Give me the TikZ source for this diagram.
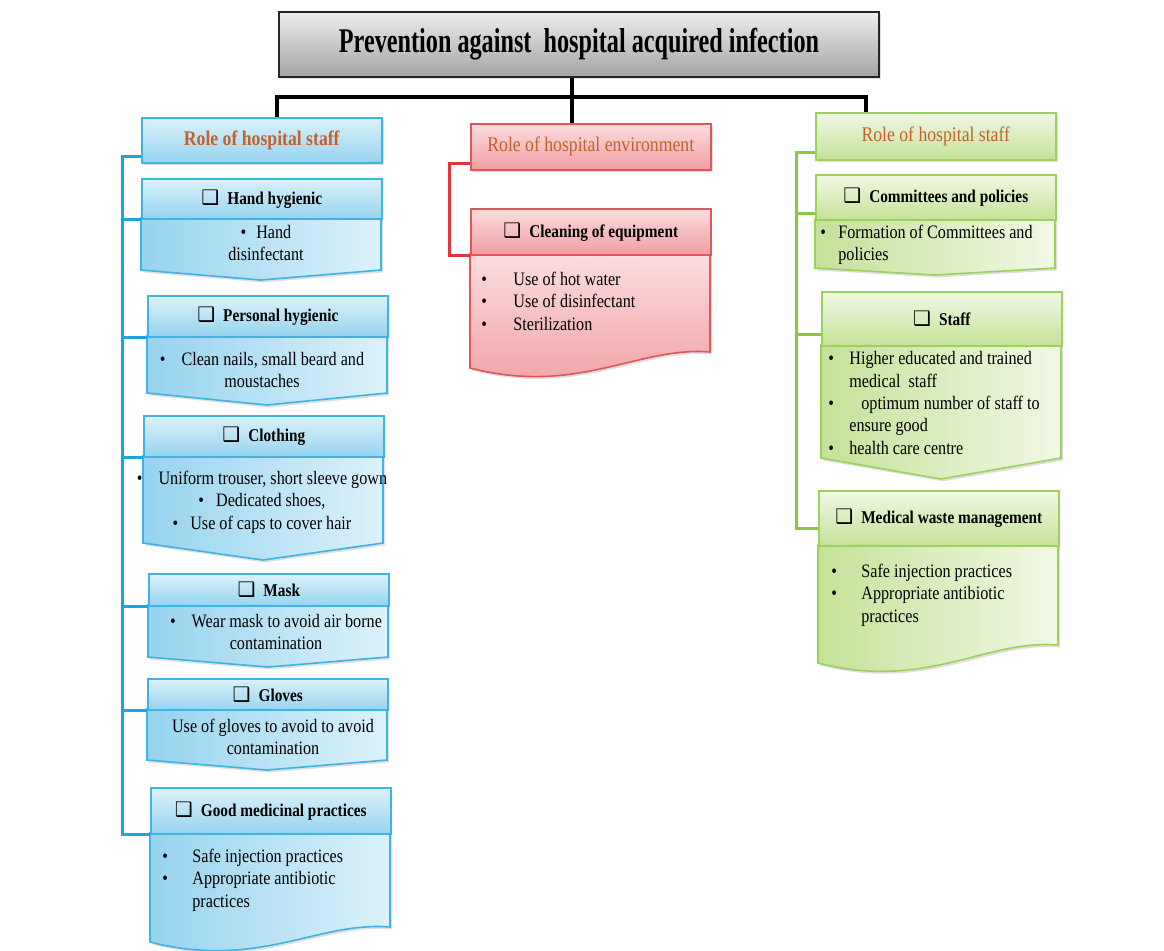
\documentclass[tikz,border=0pt]{standalone}
\usepackage{fontspec}
\setmainfont{Liberation Serif}[FakeStretch=0.85]
\newfontfamily\titlefont{Liberation Serif}[FakeStretch=0.7]
\newfontfamily\symfont{DejaVu Sans}
\usetikzlibrary{shadows}

\definecolor{bluedge}{HTML}{3FB3E3}
\definecolor{bluetop}{HTML}{DCF2FB}
\definecolor{bluebot}{HTML}{96D3EE}
\definecolor{blueline}{HTML}{1AA6DF}
\definecolor{redge}{HTML}{E2555B}
\definecolor{redtop}{HTML}{FBDDDE}
\definecolor{redbot}{HTML}{F19EA2}
\definecolor{redline}{HTML}{E0353B}
\definecolor{grnedge}{HTML}{9CD15C}
\definecolor{grntop}{HTML}{F1F8E4}
\definecolor{grnbot}{HTML}{C4E299}
\definecolor{grnline}{HTML}{8DC63F}
\definecolor{rolecol}{HTML}{C2612C}

\newcommand{\sq}{{\symfont\fontsize{10}{10}\selectfont ❑}\hspace{4pt}}
\newcommand{\bul}[1][15pt]{\makebox[#1][l]{\textbullet}}
% body with a downward point
\newcommand{\chevbody}[6]{\path[#1] (#2,#3) -- (#4,#3) -- (#4,#5) -- ({(#2+#4)/2},#6) -- (#2,#5) -- cycle;}
% body with a wavy bottom
\newcommand{\docbody}[6]{\path[#1] (#2,#3) -- (#4,#3) -- (#4,#6) .. controls ({#4-0.3*(#4-#2)},{#6-6}) and ({#2+0.45*(#4-#2)},{#5+28}) .. (#2,#5) -- cycle;}

\tikzset{
  shade/.style={drop shadow={opacity=0.25,shadow xshift=1pt,shadow yshift=-1.2pt}},
  trunk/.style={line width=1.6pt,black},
  bluebus/.style={line width=1.5pt,blueline},
  redbus/.style={line width=1.5pt,redline},
  grnbus/.style={line width=1.5pt,grnline},
  titlebox/.style={draw=black!85,line width=0.8pt,top color=black!7,bottom color=black!36,
    minimum width=300pt,minimum height=32.5pt,inner sep=0pt,shade,
    font=\titlefont\fontsize{17.3}{20}\selectfont\bfseries},
  head/.style={line width=0.8pt,anchor=north west,minimum width=120pt,inner sep=0pt,shade,
    text=rolecol,font=\fontsize{10.4}{12}\selectfont},
  boxtitle/.style={line width=0.8pt,anchor=north west,minimum width=120pt,inner sep=0pt,
    font=\fontsize{9}{11}\selectfont\bfseries},
  bluehead/.style={head,draw=bluedge,top color=bluetop,bottom color=bluebot},
  bluetitle/.style={boxtitle,draw=bluedge,top color=bluetop,bottom color=bluebot},
  bluebody/.style={draw=bluedge,line width=0.8pt,left color=bluebot,right color=bluetop,shade},
  redhead/.style={head,draw=redge,top color=redtop,bottom color=redbot},
  redtitle/.style={boxtitle,draw=redge,top color=redtop,bottom color=redbot},
  redbody/.style={draw=redge,line width=0.8pt,top color=redtop,bottom color=redbot,shade},
  grnhead/.style={head,draw=grnedge,top color=grntop,bottom color=grnbot},
  grntitle/.style={boxtitle,draw=grnedge,top color=grntop,bottom color=grnbot},
  grnbody/.style={draw=grnedge,line width=0.8pt,left color=grnbot,right color=grntop,shade},
  bodytxt/.style={font=\fontsize{9.5}{11.2}\selectfont,inner sep=0pt,align=center},
  listtxt/.style={font=\fontsize{9.5}{11.2}\selectfont,inner sep=0pt,align=left,anchor=west},
}

\begin{document}
\begin{tikzpicture}[x=0.5pt,y=-0.5pt]
  \useasboundingbox[fill=white] (0,0) rectangle (1164,950);

  \node[titlebox] (top) at (579,44.5) {Prevention against \ hospital acquired infection};

  % left column
  \node[bluehead,font=\fontsize{10.4}{12}\selectfont\bfseries,minimum height=22.5pt] (hdL) at (141,117) {Role of hospital staff};
  \chevbody{bluebody}{141}{218}{381}{270}{280}
  \node[bluetitle,minimum height=20pt] (hand) at (141,178) {\sq Hand hygienic};
  \node[bodytxt] (handtx) at (266,243) {\textbullet\hspace{5pt}Hand\\disinfectant};
  \chevbody{bluebody}{147}{336}{387}{393}{405}
  \node[bluetitle,minimum height=20.5pt] (pers) at (147,295) {\sq Personal hygienic};
  \node[bodytxt] (perstx) at (262,370) {\textbullet\hspace{8pt}Clean nails, small beard and\\moustaches};
  \chevbody{bluebody}{143}{456}{383}{543}{560}
  \node[bluetitle,minimum height=20.5pt] (cloth) at (143,415) {\sq Clothing};
  \node[bodytxt] (clothtx) at (262,502) {\textbullet\hspace{8pt}Uniform trouser, short sleeve gown\\
    \textbullet\hspace{6pt}Dedicated shoes,\\\textbullet\hspace{6pt}Use of caps to cover hair};
  \chevbody{bluebody}{148}{605}{388}{657}{667}
  \node[bluetitle,minimum height=16pt] (mask) at (148,573) {\sq Mask};
  \node[bodytxt] (masktx) at (276,632) {\textbullet\hspace{8pt}Wear mask to avoid air borne\\contamination};
  \chevbody{bluebody}{147}{709}{387}{760}{770}
  \node[bluetitle,minimum height=15.5pt] (glove) at (147,678) {\sq Gloves};
  \node[bodytxt] (glovetx) at (273,737) {Use of gloves to avoid to avoid\\contamination};
  \docbody{bluebody}{150}{833}{390}{942}{927}
  \node[bluetitle,minimum height=23pt] (gmp) at (150,787) {\sq Good medicinal practices};
  \node[listtxt] (gmptx) at (162,880) {\bul Safe injection practices\\\bul Appropriate antibiotic\\\hspace*{15pt}practices};

  % middle column
  \node[redhead,minimum height=23pt] (hdM) at (470,123) {Role of hospital environment};
  \docbody{redbody}{470}{254}{710}{368}{352}
  \node[redtitle,minimum height=23pt] (clean) at (470,208) {\sq Cleaning of equipment};
  \node[listtxt] (cleantx) at (481,301) {\bul[16pt]Use of hot water\\\bul[16pt]Use of disinfectant\\\bul[16pt]Sterilization};

  % right column
  \node[grnhead,minimum height=23.5pt] (hdR) at (815,112) {Role of hospital staff};
  \chevbody{grnbody}{815}{219}{1055}{268}{275}
  \node[grntitle,minimum height=22.5pt] (comm) at (815,174) {\sq Committees and policies};
  \node[listtxt] (commtx) at (820,245) {\bul[9pt]Formation of Committees and\\\hspace*{9pt}policies};
  \chevbody{grnbody}{821}{345}{1061}{458}{479}
  \node[grntitle,minimum height=27pt] (staff) at (821,291) {\sq Staff};
  \node[listtxt] (stafftx) at (828,403) {\bul[10.5pt]Higher educated and trained\\\hspace*{10.5pt}medical \ staff\\
    \bul[16.5pt]optimum number of staff to\\\hspace*{10.5pt}ensure good\\\bul[10.5pt]health care centre};
  \docbody{grnbody}{818}{545}{1058}{663}{645}
  \node[grntitle,minimum height=27.5pt] (waste) at (818,490) {\sq Medical waste management};
  \node[listtxt] (wastetx) at (831,595) {\bul Safe injection practices\\\bul Appropriate antibiotic\\\hspace*{15pt}practices};

  % connectors
  \coordinate (barL) at (277,97);
  \coordinate (barR) at (866,97);
  \coordinate (drop) at ([xshift=-3.5pt]top.south);
  \draw[trunk] (drop) -- (drop |- hdM.north);
  \draw[trunk] (hdL.north -| barL) -- (barL) -- (barR) -- (hdR.north -| barR);

  \coordinate (busL) at (122,0);
  \draw[bluebus] ([yshift=3.5pt]hdL.south west) -| (busL |- gmp.south west) -- (gmp.south west);
  \foreach \b in {hand,pers,cloth,mask,glove}
    \draw[bluebus] (busL |- \b.south west) -- (\b.south west);

  \coordinate (busM) at (449,0);
  \draw[redbus] ([yshift=3.5pt]hdM.south west) -| (busM |- clean.south west) -- (clean.south west);

  \coordinate (busR) at (796,0);
  \coordinate (wastestub) at ([yshift=9pt]waste.south west);
  \coordinate (commstub) at ([yshift=3.5pt]comm.south west);
  \coordinate (staffstub) at ([yshift=6pt]staff.south west);
  \draw[grnbus] ([yshift=4pt]hdR.south west) -| (busR |- wastestub) -- (wastestub);
  \draw[grnbus] (busR |- commstub) -- (commstub);
  \draw[grnbus] (busR |- staffstub) -- (staffstub);
\end{tikzpicture}
\end{document}
